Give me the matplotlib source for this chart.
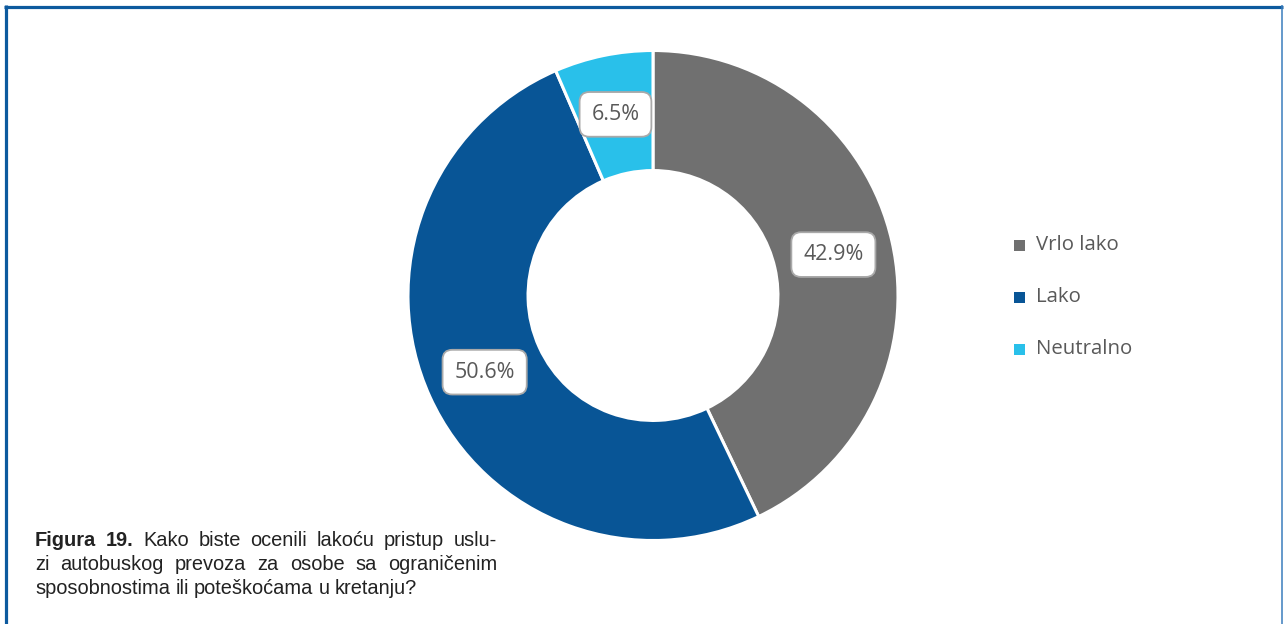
import matplotlib.pyplot as plt
from matplotlib.patches import Rectangle

labels = ['Vrlo lako', 'Lako', 'Neutralno']
values = [42.9, 50.6, 6.5]
colors = ['#707070', '#085596', '#29c0ea']

caption_lines = [
    [('Figura', True), ('19.', True), ('Kako', False), ('biste', False), ('ocenili', False),
     ('lakoću', False), ('pristup', False), ('uslu-', False)],
    [('zi', False), ('autobuskog', False), ('prevoza', False), ('za', False), ('osobe', False),
     ('sa', False), ('ograničenim', False)],
    [('sposobnostima', False), ('ili', False), ('poteškoćama', False), ('u', False), ('kretanju?', False)],
]

W, H = 1287, 624
fig = plt.figure(figsize=(W / 100, H / 100), dpi=100)

# background layer in pixel coordinates for the frame, caption and legend
bg = fig.add_axes([0, 0, 1, 1])
bg.set_xlim(0, W)
bg.set_ylim(H, 0)
bg.axis('off')
bg.plot([4, 1283], [6.5, 6.5], color='#0d5a9e', lw=2.3, solid_capstyle='butt')
bg.plot([5.5, 5.5], [5, H], color='#0d5a9e', lw=2.3, solid_capstyle='butt')
bg.plot([1282, 1282], [5, H], color='#3a7dbd', lw=1.1, solid_capstyle='butt')

# donut
cx, cy, r = 653, 295.5, 245
ax = fig.add_axes([(cx - r) / W, (H - cy - r) / H, 2 * r / W, 2 * r / H])
wedges, texts, autotexts = ax.pie(
    values, colors=colors, startangle=90, counterclock=False,
    wedgeprops=dict(width=0.49, edgecolor='white', linewidth=2.2),
    autopct='%.1f%%', pctdistance=0.755,
    textprops=dict(family='Open Sans', fontsize=15.5, color='#595959'))
for t in autotexts:
    t.set_bbox(dict(boxstyle='round,pad=0.55,rounding_size=0.45', facecolor='white',
                    edgecolor='#a9a9a9', linewidth=1.3))
ax.set_xlim(-1, 1)
ax.set_ylim(-1, 1)

# legend
for i, (lab, col) in enumerate(zip(labels, colors)):
    y = 245.5 + i * 52
    bg.add_patch(Rectangle((1014, y - 5.5), 11, 11, facecolor=col, edgecolor='none'))
    bg.text(1036, y, lab, family='Open Sans', fontsize=14.7, color='#595959',
            va='center', ha='left')

# justified caption
fig.canvas.draw()
renderer = fig.canvas.get_renderer()
x0, x1 = 35, 497
for li, words in enumerate(caption_lines):
    y = 541 + li * 24
    arts = []
    for w, bold in words:
        t = bg.text(0, y, w, family='Liberation Sans', fontsize=14.4, color='#222222',
                    fontweight='bold' if bold else 'normal', va='center', ha='left')
        arts.append(t)
    widths = [t.get_window_extent(renderer).width for t in arts]
    if li < len(caption_lines) - 1:
        gap = (x1 - x0 - sum(widths)) / (len(arts) - 1)
    else:
        gap = 5.3
    x = x0
    for t, wd in zip(arts, widths):
        t.set_x(x)
        x += wd + gap

fig.savefig('out.png', dpi=100)
